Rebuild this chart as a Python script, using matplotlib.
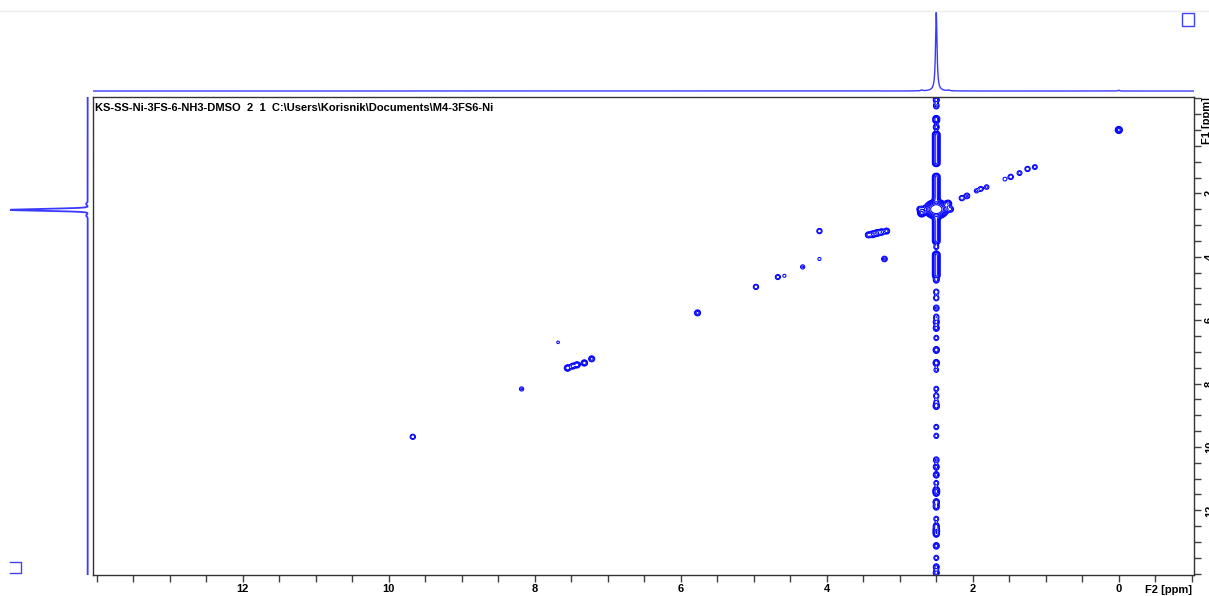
import numpy as np
import matplotlib
matplotlib.use("Agg")
import matplotlib.pyplot as plt
from matplotlib.patches import Rectangle
from matplotlib.lines import Line2D

# ---------------- data (ppm) ----------------
title_text = r"KS-SS-Ni-3FS-6-NH3-DMSO  2  1  C:\Users\Korisnik\Documents\M4-3FS6-Ni"

# isolated cross/diagonal peaks: F2, F1, relative intensity
peak_f2 = [0.00, 9.67, 8.18, 7.68, 7.55, 7.48, 7.42, 7.32, 7.22, 5.77, 4.97, 4.67, 4.58,
           4.33, 4.10, 4.10, 3.21, 3.43, 3.37, 3.31, 3.25, 3.18, 2.70, 2.34,
           2.15, 2.08, 1.95, 1.89, 1.81, 1.56, 1.48, 1.36, 1.25, 1.15]
peak_f1 = [0.00, 9.68, 8.17, 6.70, 7.51, 7.45, 7.41, 7.35, 7.22, 5.77, 4.95, 4.64, 4.60,
           4.32, 3.19, 4.07, 4.07, 3.31, 3.29, 3.25, 3.22, 3.19, 2.62, 2.33,
           2.15, 2.08, 1.92, 1.86, 1.80, 1.55, 1.48, 1.36, 1.23, 1.17]
peak_amp = [3.0, 1.0, 0.6, 0.35, 2.0, 1.5, 1.8, 1.8, 1.5, 1.5, 1.0, 0.9, 0.4,
            0.6, 1.0, 0.4, 1.2, 1.5, 2.5, 2.5, 2.0, 1.5, 6.0, 4.0,
            1.0, 1.2, 0.6, 0.8, 0.7, 0.5, 1.0, 0.8, 1.0, 0.8]

# solvent (DMSO) peak
dmso_f2, dmso_f1, dmso_amp = 2.50, 2.50, 100.0
dmso_ridge_f2 = (2.28, 2.75)   # horizontal t1 ridge along F2
dmso_ridge_amp = 1.5

# t1-noise stripe at F2 = 2.50 ppm: continuous segments (F1 start, end)
stripe_seg_start = [-0.41, 0.09, 1.42, 2.68, 3.88]
stripe_seg_end   = [-0.25, 1.10, 2.37, 3.56, 4.64]
stripe_seg_amp   = [3.0, 5.0, 5.0, 5.0, 5.0]
# isolated stripe spots (F1) and intensities
stripe_dot_f1 = [-0.95, -0.76, -0.09, 3.69, 4.73, 5.11, 5.30, 5.62, 5.90, 6.06, 6.25,
                 6.56, 6.94, 7.35, 7.57, 8.17, 8.39, 8.58, 8.71, 9.37, 9.65, 10.41,
                 10.63, 10.88, 11.14, 11.36, 11.45, 11.74, 11.89, 12.27, 12.49,
                 12.62, 12.74, 13.12, 13.50, 13.79, 13.97]
stripe_dot_amp = [1.5, 1.2, 1.4, 0.8, 1.4, 1.0, 1.0, 1.2, 1.0, 1.5, 1.5,
                  0.8, 1.8, 1.9, 0.7, 0.8, 1.0, 0.7, 1.8, 0.8, 0.8, 1.2,
                  1.4, 1.4, 0.8, 1.9, 1.8, 1.8, 1.5, 0.8, 1.4,
                  1.9, 1.8, 1.5, 0.8, 1.4, 1.5]

# 1D projections (F2 on top, F1 on left): position, height
proj_f2_pos = [2.50, 2.70, 2.33, 0.00, 3.30]
proj_f2_amp = [1.0, 0.012, 0.010, 0.010, 0.004]
proj_f1_pos = [2.52, 2.70, 2.33]
proj_f1_amp = [1.0, 0.02, 0.02]

x_major = [0, 2, 4, 6, 8, 10, 12, 14]
x_labels = ["0", "2", "4", "6", "8", "10", "12", ""]
y_major = [0, 2, 4, 6, 8, 10, 12, 14]
y_labels = ["", "2", "4", "6", "8", "10", "12", ""]

# ---------------- figure ----------------
W, H = 1209, 596
fig = plt.figure(figsize=(W / 100, H / 100), dpi=100)
fig.patch.set_facecolor("white")

XLIM = (14.05, -1.03)
YLIM = (14.04, -1.04)

ax = fig.add_axes([93 / W, 1 - 575 / H, (1194 - 93) / W, (575 - 97) / H])
ax.set_xlim(*XLIM)
ax.set_ylim(*YLIM)

# grid for contour model
xg = np.linspace(XLIM[0], XLIM[1], 2600)
yg = np.linspace(YLIM[1], YLIM[0], 1300)

def gauss(v, c, s):
    return np.exp(-0.5 * ((v - c) / s) ** 2)

def flat(v, a, b, s):
    return 0.5 * (np.tanh((v - a) / s) - np.tanh((v - b) / s))

comp_x, comp_y = [], []
sx, sy = 0.022, 0.05
for f2, f1, a in zip(peak_f2, peak_f1, peak_amp):
    comp_x.append(a * gauss(xg, f2, sx))
    comp_y.append(gauss(yg, f1, sy))
# DMSO
comp_x.append(dmso_amp * gauss(xg, dmso_f2, 0.05))
comp_y.append(gauss(yg, dmso_f1, 0.09))
comp_x.append(dmso_ridge_amp * flat(xg, dmso_ridge_f2[0], dmso_ridge_f2[1], 0.02))
comp_y.append(gauss(yg, dmso_f1, 0.05))
# stripe segments
for a0, b0, a in zip(stripe_seg_start, stripe_seg_end, stripe_seg_amp):
    comp_x.append(a * gauss(xg, dmso_f2, 0.022))
    comp_y.append(flat(yg, a0, b0, 0.04))
for f1, a in zip(stripe_dot_f1, stripe_dot_amp):
    comp_x.append(a * gauss(xg, dmso_f2, 0.022))
    comp_y.append(gauss(yg, f1, 0.055))

GX = np.array(comp_x)
GY = np.array(comp_y)
Z = GY.T @ GX
Xm, Ym = np.meshgrid(xg, yg)
levels = 0.25 * 2.0 ** np.arange(0, 8)
ax.contour(Xm, Ym, Z, levels=levels, colors="#0000ff", linewidths=0.75)

# axes styling
for s in ax.spines.values():
    s.set_color("#333333")
    s.set_linewidth(1.0)
ax.set_xticks(x_major)
ax.set_xticklabels(x_labels, fontweight="bold", fontsize=8, family="Liberation Sans")
ax.set_xticks(np.arange(-1.0, 14.01, 0.5), minor=True)
ax.yaxis.tick_right()
ax.set_yticks(y_major)
ax.set_yticklabels(y_labels, fontweight="bold", fontsize=8, family="Liberation Sans",
                   rotation=90, va="center")
ax.set_yticks(np.arange(-1.0, 14.01, 0.5), minor=True)
ax.tick_params(which="both", direction="out", length=5, width=1, color="#404040",
               labelcolor="black")
ax.tick_params(axis="x", which="major", pad=1.5)
ax.tick_params(axis="y", which="major", pad=3)

ax.text(0.002, 0.978, title_text, transform=ax.transAxes, fontsize=8,
        fontweight="bold", family="Liberation Sans", va="center", ha="left")

fig.text(1145 / W, 1 - 590 / H, "F2 [ppm]", fontsize=8, fontweight="bold",
         family="Liberation Sans", va="center", ha="left")
fig.text(1202 / W, 1 - 97 / H, "F1 [ppm]", fontsize=8, fontweight="bold",
         family="Liberation Sans", va="top", ha="left", rotation=90)

# top projection
axt = fig.add_axes([93 / W, 1 - 93 / H, (1194 - 93) / W, 83 / H])
xs = np.linspace(XLIM[0], XLIM[1], 8000)
spec = np.zeros_like(xs)
for p, a in zip(proj_f2_pos, proj_f2_amp):
    spec += a / (1 + ((xs - p) / 0.012) ** 2)
axt.plot(xs, spec, color="#3a3aff", lw=1.0)
axt.set_xlim(*XLIM)
axt.set_ylim(-0.025, 1.025)
axt.axis("off")

# left projection
axl = fig.add_axes([10 / W, 1 - 575 / H, 80 / W, (575 - 97) / H])
ys = np.linspace(YLIM[1], YLIM[0], 6000)
spec1 = np.zeros_like(ys)
for p, a in zip(proj_f1_pos, proj_f1_amp):
    spec1 += a * np.exp(-0.5 * ((ys - p) / 0.03) ** 2)
axl.plot(spec1, ys, color="#3a3aff", lw=1.3)
axl.set_xlim(1.0, -0.03)
axl.set_ylim(*YLIM)
axl.axis("off")

# decorations
fig.add_artist(Line2D([0, 1], [1 - 10.5 / H, 1 - 10.5 / H], color="#ececec", lw=1))
fig.add_artist(Rectangle((1182 / W, 1 - 26 / H), 12 / W, 13 / H, fill=False,
                         edgecolor="#4040ff", lw=1))
fig.add_artist(Line2D([10 / W, 21 / W, 21 / W, 10 / W],
                      [1 - 562 / H, 1 - 562 / H, 1 - 573 / H, 1 - 573 / H],
                      color="#4040ff", lw=1))

fig.savefig("out.png", dpi=100, facecolor="white")
